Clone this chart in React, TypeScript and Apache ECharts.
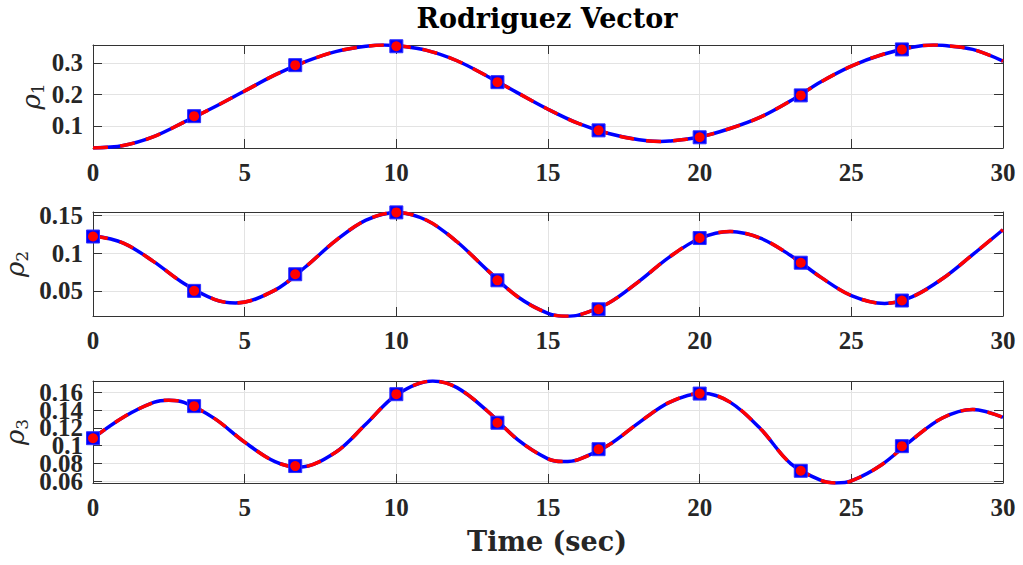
import React, { useEffect, useRef } from "react";
import * as echarts from "echarts";

// time samples (sec) and values for each component
const t1 = [
  0, 1, 2, 3, 4, 5, 6, 7, 8, 9, 9.6, 10, 11, 12, 13, 14, 15, 16, 17, 18, 18.7,
  19, 20, 21, 22, 23, 24, 25, 26, 27, 27.7, 28, 29, 30,
];
const rho1 = [
  0.03, 0.038, 0.066, 0.112, 0.16, 0.211, 0.262, 0.304, 0.336, 0.353, 0.357,
  0.355, 0.34, 0.307, 0.258, 0.205, 0.153, 0.108, 0.076, 0.056, 0.051, 0.052,
  0.065, 0.092, 0.128, 0.18, 0.24, 0.29, 0.326, 0.35, 0.357, 0.356, 0.343,
  0.306,
];
const t2 = [
  0, 1, 2, 3, 4, 4.7, 6, 7, 8, 9, 10, 11, 12, 13, 14, 15, 15.6, 16, 17, 18, 19,
  20, 21, 22, 23, 24, 25, 26.1, 27, 28, 29, 30,
];
const rho2 = [
  0.123, 0.1134, 0.0888, 0.0598, 0.0388, 0.034, 0.051, 0.0816, 0.1166, 0.1438,
  0.154, 0.1436, 0.1151, 0.0775, 0.0422, 0.0202, 0.0163, 0.0178, 0.0339,
  0.0627, 0.0948, 0.1194, 0.1287, 0.1199, 0.0969, 0.0679, 0.0438, 0.0333,
  0.042, 0.066, 0.098, 0.131,
];
const t3 = [
  0, 1, 2, 2.5, 3, 4, 5, 6, 6.8, 8, 9, 10, 11.2, 12, 13, 14, 15, 15.5, 16, 17,
  18, 19, 20.1, 21, 22, 23, 24, 24.5, 25, 26, 27, 28, 29, 30,
];
const rho3 = [
  0.1084, 0.132, 0.1486, 0.1511, 0.1486, 0.1307, 0.104, 0.0821, 0.076, 0.0927,
  0.1243, 0.157, 0.1726, 0.1652, 0.139, 0.1068, 0.0853, 0.0823, 0.0845, 0.1007,
  0.1259, 0.1487, 0.159, 0.1489, 0.1192, 0.08, 0.0611, 0.0582, 0.0605, 0.0787,
  0.1066, 0.1311, 0.1407, 0.1318,
];

// marker samples
const markT1 = [3.333, 6.667, 10, 13.333, 16.667, 20, 23.333, 26.667];
const mark1 = [0.131, 0.293, 0.353, 0.239, 0.086, 0.064, 0.197, 0.343];
const markT = [0, 3.333, 6.667, 10, 13.333, 16.667, 20, 23.333, 26.667];
const mark2 = [0.122, 0.05, 0.072, 0.154, 0.064, 0.0256, 0.12, 0.0873, 0.0372];
const mark3 = [0.1084, 0.1444, 0.0772, 0.1578, 0.1258, 0.0961, 0.1585, 0.0719, 0.0995];

// axes
const xTicks = [0, 5, 10, 15, 20, 25, 30];
const yTicks1 = [0.1, 0.2, 0.3];
const yTicks2 = [0.05, 0.1, 0.15];
const yTicks3 = [0.06, 0.08, 0.1, 0.12, 0.14, 0.16];
// plot 3 labels are drawn in two interleaved sets so that all six stay visible
const yLabels3a = [0.06, 0.1, 0.14];
const yLabels3b = [0.08, 0.12, 0.16];
const yRange1 = [0.03, 0.357];
const yRange2 = [0.0167, 0.1545];
const yRange3 = [0.0582, 0.1726];
const yNames = ["1", "2", "3"];
const titleText = "Rodriguez Vector";
const xLabelText = "Time (sec)";

const AX = "#333333";
const LBL = "#262626";
const GRID = "#e3e3e3";
const TICKFONT = "'Liberation Serif', 'Times New Roman', serif";
const CMFONT = "'DejaVu Serif', serif";

export default function App() {
  const ref = useRef<HTMLDivElement>(null);
  useEffect(() => {
    if (!ref.current) return;
    const chart = echarts.init(ref.current, null, { renderer: "svg" });
    const grids = [
      { left: 93, top: 45, width: 910, height: 103, outerBoundsMode: "none", containLabel: false },
      { left: 93, top: 212, width: 910, height: 104, outerBoundsMode: "none", containLabel: false },
      { left: 93, top: 381, width: 910, height: 102, outerBoundsMode: "none", containLabel: false },
    ];
    const nameGaps = [47, 63, 63];
    const ranges = [yRange1, yRange2, yRange3];
    const ticks = [yTicks1, yTicks2, yTicks3];
    const labelVals = [yTicks1, yTicks2, yLabels3a];
    const lineT = [t1, t2, t3];
    const lines = [rho1, rho2, rho3];
    const marks = [
      markT1.map((t, i) => [t, mark1[i]]),
      markT.map((t, i) => [t, mark2[i]]),
      markT.map((t, i) => [t, mark3[i]]),
    ];

    const labelStyle = {
      show: true,
      color: LBL,
      fontFamily: TICKFONT,
      fontWeight: "bold",
      fontSize: 25,
      hideOverlap: false,
      showMinLabel: true,
      showMaxLabel: true,
    };

    const xAxis: any[] = [];
    const yAxis: any[] = [];
    grids.forEach((_, g) => {
      xAxis.push({
        type: "value",
        gridIndex: g,
        min: 0,
        max: 30,
        interval: 5,
        axisLine: { show: true, onZero: false, lineStyle: { color: AX, width: 1 } },
        axisTick: { show: true, inside: true, length: 9, lineStyle: { color: AX } },
        axisLabel: { ...labelStyle, margin: 12, customValues: xTicks },
        splitLine: { show: true, lineStyle: { color: GRID, width: 1 } },
      });
    });
    grids.forEach((_, g) => {
      xAxis.push({
        type: "value",
        gridIndex: g,
        position: "top",
        min: 0,
        max: 30,
        interval: 5,
        axisLine: { show: true, onZero: false, lineStyle: { color: AX, width: 1 } },
        axisTick: { show: true, inside: true, length: 9, lineStyle: { color: AX } },
        axisLabel: { show: false },
        splitLine: { show: false },
      });
    });
    grids.forEach((_, g) => {
      yAxis.push({
        type: "value",
        gridIndex: g,
        min: ranges[g][0],
        max: ranges[g][1],
        axisLine: { show: true, onZero: false, lineStyle: { color: AX, width: 1 } },
        axisTick: {
          show: true,
          inside: true,
          length: 9,
          lineStyle: { color: AX },
          customValues: ticks[g],
        },
        axisLabel: { ...labelStyle, margin: 10, customValues: labelVals[g] },
        splitLine: {
          show: true,
          lineStyle: { color: GRID, width: 1 },
          customValues: ticks[g],
        },
        name: "{r|ρ}{s|" + yNames[g] + "}",
        nameLocation: "middle",
        nameRotate: 90,
        nameGap: nameGaps[g],
        nameMoveOverlap: false,
        nameTextStyle: {
          rich: {
            r: {
              fontFamily: CMFONT,
              fontStyle: "italic",
              fontSize: 26,
              color: LBL,
              lineHeight: 30,
              verticalAlign: "middle",
            },
            s: {
              fontFamily: CMFONT,
              fontSize: 17,
              color: LBL,
              lineHeight: 14,
              verticalAlign: "bottom",
            },
          },
        },
      });
    });
    grids.forEach((_, g) => {
      yAxis.push({
        type: "value",
        gridIndex: g,
        position: "right",
        min: ranges[g][0],
        max: ranges[g][1],
        axisLine: { show: true, onZero: false, lineStyle: { color: AX, width: 1 } },
        axisTick: {
          show: true,
          inside: true,
          length: 9,
          lineStyle: { color: AX },
          customValues: ticks[g],
        },
        axisLabel: { show: false, customValues: ticks[g] },
        splitLine: { show: false },
      });
    });
    // second label set for plot 3 (same scale, left side)
    yAxis.push({
      type: "value",
      gridIndex: 2,
      position: "left",
      offset: 0,
      min: yRange3[0],
      max: yRange3[1],
      axisLine: { show: false },
      axisTick: { show: false },
      axisLabel: { ...labelStyle, margin: 10, customValues: yLabels3b },
      splitLine: { show: false },
    });

    const series: any[] = [];
    grids.forEach((_, g) => {
      const data = lineT[g].map((t, i) => [t, lines[g][i]]);
      series.push({
        type: "line",
        xAxisIndex: g,
        yAxisIndex: g,
        data,
        smooth: 0.35,
        showSymbol: false,
        lineStyle: { color: "#0000ff", width: 3.5 },
        z: 2,
      });
      series.push({
        type: "line",
        xAxisIndex: g,
        yAxisIndex: g,
        data,
        smooth: 0.35,
        showSymbol: false,
        lineStyle: { color: "#ff0000", width: 3.5, type: [15, 12] },
        z: 3,
      });
      series.push({
        type: "scatter",
        xAxisIndex: g,
        yAxisIndex: g,
        data: marks[g],
        symbol: "rect",
        symbolSize: 13,
        itemStyle: { color: "#0000ff", borderColor: "#3030ff", borderWidth: 1, opacity: 1 },
        z: 4,
      });
      series.push({
        type: "scatter",
        xAxisIndex: g,
        yAxisIndex: g,
        data: marks[g],
        symbol: "circle",
        symbolSize: 10,
        itemStyle: { color: "#ff0000", opacity: 1 },
        z: 5,
      });
    });

    chart.setOption({
      animation: false,
      backgroundColor: "#ffffff",
      grid: grids,
      xAxis,
      yAxis,
      series,
      graphic: [
        {
          type: "text",
          x: 547,
          y: 18,
          style: {
            text: titleText,
            fontFamily: CMFONT,
            fontWeight: "bold",
            fontSize: 27,
            fill: "#000000",
            textAlign: "center",
            textVerticalAlign: "middle",
          },
        },
        {
          type: "text",
          x: 547,
          y: 541,
          style: {
            text: xLabelText,
            fontFamily: CMFONT,
            fontWeight: "bold",
            fontSize: 27,
            fill: LBL,
            textAlign: "center",
            textVerticalAlign: "middle",
          },
        },
      ],
    });
    return () => chart.dispose();
  }, []);
  return (
    <div
      ref={ref}
      style={{ position: "fixed", left: 0, top: 0, width: 1023, height: 565, background: "#fff" }}
    />
  );
}
